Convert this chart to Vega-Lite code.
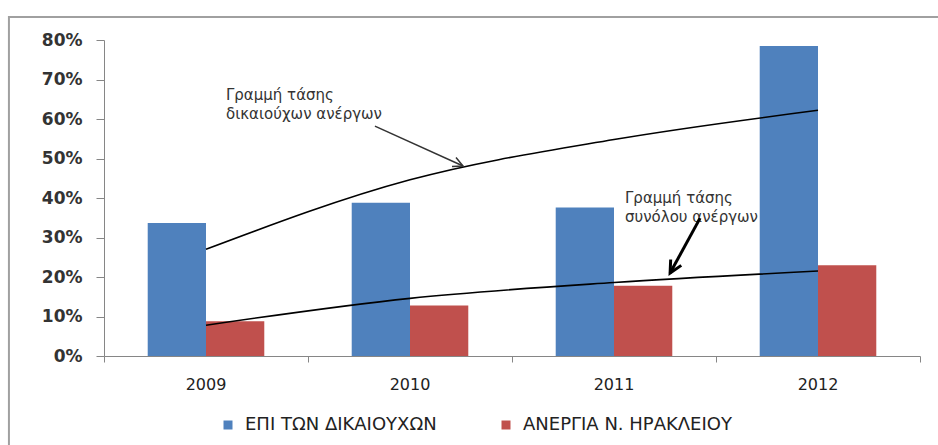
{
  "$schema": "https://vega.github.io/schema/vega-lite/v6.json",
  "width": 816,
  "height": 316,
  "autosize": {"type": "none"},
  "padding": {"left": 104, "top": 40, "right": 18, "bottom": 89},
  "background": "white",
  "config": {"view": {"stroke": null}, "font": "DejaVu Sans", "axisY": {"labelOverlap": false}},
  "datasets": {
    "bars": [
      {"year": "2009", "series": "ΕΠΙ ΤΩΝ ΔΙΚΑΙΟΥΧΩΝ", "value": 0.337},
      {"year": "2009", "series": "ΑΝΕΡΓΙΑ Ν. ΗΡΑΚΛΕΙΟΥ", "value": 0.088},
      {"year": "2010", "series": "ΕΠΙ ΤΩΝ ΔΙΚΑΙΟΥΧΩΝ", "value": 0.388},
      {"year": "2010", "series": "ΑΝΕΡΓΙΑ Ν. ΗΡΑΚΛΕΙΟΥ", "value": 0.128},
      {"year": "2011", "series": "ΕΠΙ ΤΩΝ ΔΙΚΑΙΟΥΧΩΝ", "value": 0.376},
      {"year": "2011", "series": "ΑΝΕΡΓΙΑ Ν. ΗΡΑΚΛΕΙΟΥ", "value": 0.178},
      {"year": "2012", "series": "ΕΠΙ ΤΩΝ ΔΙΚΑΙΟΥΧΩΝ", "value": 0.785},
      {"year": "2012", "series": "ΑΝΕΡΓΙΑ Ν. ΗΡΑΚΛΕΙΟΥ", "value": 0.23}
    ],
    "trends": [
      {"year": "2009", "trend": "δικαιούχοι", "value": 0.27},
      {"year": "2010", "trend": "δικαιούχοι", "value": 0.446},
      {"year": "2011", "trend": "δικαιούχοι", "value": 0.548},
      {"year": "2012", "trend": "δικαιούχοι", "value": 0.622},
      {"year": "2009", "trend": "σύνολο", "value": 0.078},
      {"year": "2010", "trend": "σύνολο", "value": 0.146},
      {"year": "2011", "trend": "σύνολο", "value": 0.186},
      {"year": "2012", "trend": "σύνολο", "value": 0.215}
    ],
    "notes": [
      {"t": 0.598, "v": 0.678, "label": "Γραμμή τάσης\nδικαιούχων ανέργων"},
      {"t": 2.554, "v": 0.418, "label": "Γραμμή τάσης\nσυνόλου ανέργων"}
    ],
    "arrow1": [{"t": 1.328, "v": 0.582, "t2": 1.76, "v2": 0.481}],
    "arrow2": [{"t": 2.922, "v": 0.349, "t2": 2.775, "v2": 0.21}],
    "axisTicks": [{"t": 0}],
    "frame": [{"frame": "chart area"}]
  },
  "layer": [
    {
      "data": {"name": "bars"},
      "mark": {"type": "bar"},
      "encoding": {
        "x": {
          "field": "year", "type": "nominal",
          "scale": {"paddingInner": 0, "paddingOuter": 0},
          "axis": {"title": null, "ticks": false, "domain": false, "labelAngle": 0, "labelFont": "DejaVu Sans", "labelFontSize": 16, "labelColor": "#222222", "labelPadding": 20}
        },
        "xOffset": {
          "field": "series", "type": "nominal",
          "sort": ["ΕΠΙ ΤΩΝ ΔΙΚΑΙΟΥΧΩΝ", "ΑΝΕΡΓΙΑ Ν. ΗΡΑΚΛΕΙΟΥ"],
          "scale": {"paddingInner": 0, "paddingOuter": 0.75}
        },
        "y": {
          "field": "value", "type": "quantitative",
          "scale": {"domain": [0, 0.8], "nice": false},
          "axis": {
            "title": null, "values": [0, 0.1, 0.2, 0.3, 0.4, 0.5, 0.6, 0.7, 0.8], "format": ".0%",
            "grid": false, "tickSize": 8, "tickColor": "#868686", "domainColor": "#868686", "labelOverlap": false,
            "labelFont": "DejaVu Sans", "labelFontWeight": "bold", "labelFontSize": 17, "labelColor": "#333333", "labelPadding": 14
          }
        },
        "color": {
          "field": "series", "type": "nominal",
          "scale": {"domain": ["ΕΠΙ ΤΩΝ ΔΙΚΑΙΟΥΧΩΝ", "ΑΝΕΡΓΙΑ Ν. ΗΡΑΚΛΕΙΟΥ"], "range": ["#4F81BD", "#C0504D"]},
          "legend": {
            "title": null, "orient": "none", "legendX": 115, "legendY": 376, "direction": "horizontal",
            "symbolType": "square", "symbolSize": 81, "symbolStrokeWidth": 0,
            "labelFont": "DejaVu Sans", "labelFontSize": 18, "labelColor": "#222222", "labelOffset": 8,
            "columnPadding": 60, "labelLimit": 400
          }
        }
      }
    },
    {
      "data": {"name": "frame"},
      "mark": {"type": "rect", "fill": "transparent", "stroke": "#a0a0a0", "strokeWidth": 2, "clip": false},
      "encoding": {
        "x": {"datum": -0.466, "type": "quantitative", "scale": {"domain": [0, 4], "nice": false, "zero": false}, "axis": null},
        "x2": {"datum": 4.6},
        "y": {"datum": 0.858, "type": "quantitative", "axis": {"title": null, "values": [0, 0.1, 0.2, 0.3, 0.4, 0.5, 0.6, 0.7, 0.8], "format": ".0%", "labelOverlap": false}},
        "y2": {"datum": -0.4}
      }
    },
    {
      "data": {"name": "trends"},
      "mark": {"type": "line", "color": "black", "strokeWidth": 1.6, "interpolate": "monotone"},
      "encoding": {
        "x": {"field": "year", "type": "nominal", "scale": {"paddingInner": 0, "paddingOuter": 0}, "axis": null},
        "y": {"field": "value", "type": "quantitative", "axis": {"title": null, "values": [0, 0.1, 0.2, 0.3, 0.4, 0.5, 0.6, 0.7, 0.8], "format": ".0%", "labelOverlap": false}},
        "detail": {"field": "trend"}
      }
    },
    {
      "data": {"name": "axisTicks"},
      "mark": {"type": "point", "opacity": 0},
      "encoding": {
        "x": {
          "field": "t", "type": "quantitative",
          "scale": {"domain": [0, 4], "nice": false, "zero": false},
          "axis": {"title": null, "orient": "bottom", "values": [0, 1, 2, 3, 4], "labels": false, "grid": false, "tickSize": 6, "tickColor": "#868686", "domainColor": "#868686"}
        },
        "y": {"datum": 0, "type": "quantitative", "axis": {"title": null, "values": [0, 0.1, 0.2, 0.3, 0.4, 0.5, 0.6, 0.7, 0.8], "format": ".0%", "labelOverlap": false}}
      }
    },
    {
      "data": {"name": "notes"},
      "mark": {"type": "text", "align": "left", "baseline": "top", "font": "DejaVu Sans", "fontSize": 15, "lineHeight": 19, "lineBreak": "\n", "color": "#333333"},
      "encoding": {
        "x": {"field": "t", "type": "quantitative", "scale": {"domain": [0, 4], "nice": false, "zero": false}, "axis": null},
        "y": {"field": "v", "type": "quantitative", "axis": {"title": null, "values": [0, 0.1, 0.2, 0.3, 0.4, 0.5, 0.6, 0.7, 0.8], "format": ".0%", "labelOverlap": false}},
        "text": {"field": "label"}
      }
    },
    {
      "data": {"name": "arrow1"},
      "mark": {"type": "rule", "color": "#333333", "strokeWidth": 1.5},
      "encoding": {
        "x": {"field": "t", "type": "quantitative", "scale": {"domain": [0, 4], "nice": false, "zero": false}, "axis": null},
        "y": {"field": "v", "type": "quantitative", "axis": {"title": null, "values": [0, 0.1, 0.2, 0.3, 0.4, 0.5, 0.6, 0.7, 0.8], "format": ".0%", "labelOverlap": false}},
        "x2": {"field": "t2"},
        "y2": {"field": "v2"}
      }
    },
    {
      "data": {"name": "arrow1"},
      "mark": {"type": "point", "shape": "M -0.7 1.4 L 0 0 L 0.7 1.4", "filled": false, "stroke": "#333333", "strokeWidth": 1.5, "size": 200, "angle": 114, "opacity": 1},
      "encoding": {
        "x": {"field": "t2", "type": "quantitative", "scale": {"domain": [0, 4], "nice": false, "zero": false}, "axis": null},
        "y": {"field": "v2", "type": "quantitative", "axis": {"title": null, "values": [0, 0.1, 0.2, 0.3, 0.4, 0.5, 0.6, 0.7, 0.8], "format": ".0%", "labelOverlap": false}}
      }
    },
    {
      "data": {"name": "arrow2"},
      "mark": {"type": "rule", "color": "black", "strokeWidth": 3},
      "encoding": {
        "x": {"field": "t", "type": "quantitative", "scale": {"domain": [0, 4], "nice": false, "zero": false}, "axis": null},
        "y": {"field": "v", "type": "quantitative", "axis": {"title": null, "values": [0, 0.1, 0.2, 0.3, 0.4, 0.5, 0.6, 0.7, 0.8], "format": ".0%", "labelOverlap": false}},
        "x2": {"field": "t2"},
        "y2": {"field": "v2"}
      }
    },
    {
      "data": {"name": "arrow2"},
      "mark": {"type": "point", "shape": "M -0.7 1.4 L 0 0 L 0.7 1.4", "filled": false, "stroke": "black", "strokeWidth": 3, "size": 300, "angle": 209, "opacity": 1},
      "encoding": {
        "x": {"field": "t2", "type": "quantitative", "scale": {"domain": [0, 4], "nice": false, "zero": false}, "axis": null},
        "y": {"field": "v2", "type": "quantitative", "axis": {"title": null, "values": [0, 0.1, 0.2, 0.3, 0.4, 0.5, 0.6, 0.7, 0.8], "format": ".0%", "labelOverlap": false}}
      }
    }
  ],
  "resolve": {"scale": {"x": "independent"}, "axis": {"x": "independent"}}
}
